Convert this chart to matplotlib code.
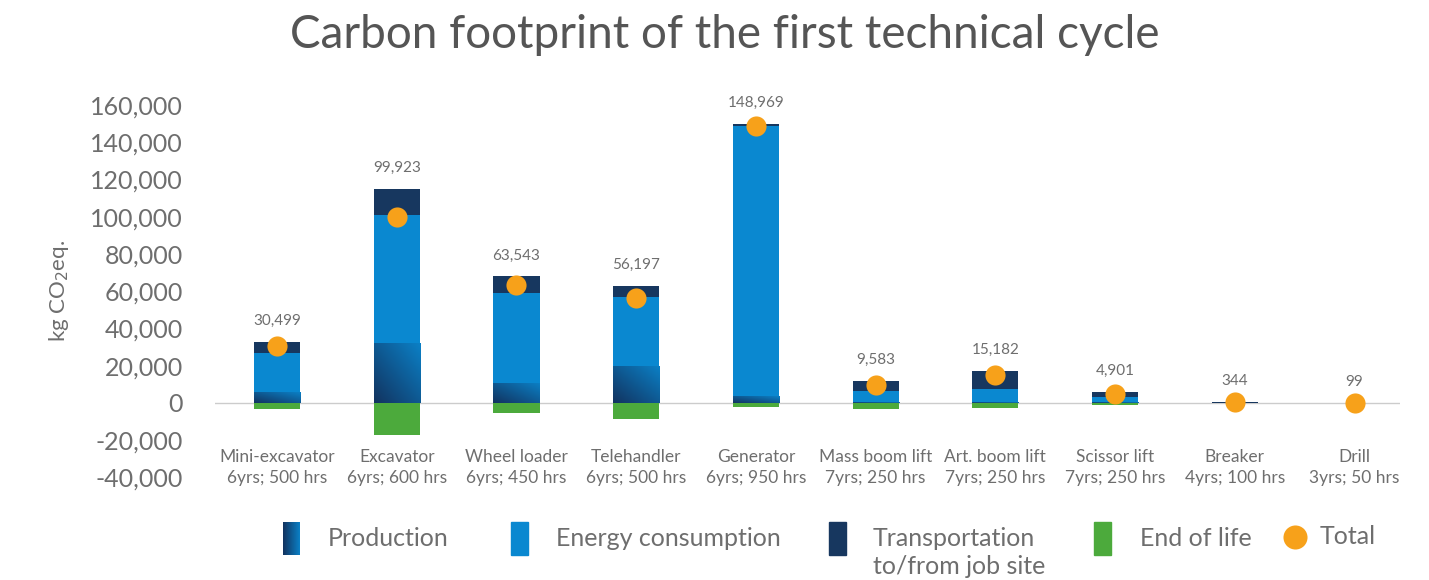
import numpy as np
import matplotlib.pyplot as plt
from matplotlib.colors import LinearSegmentedColormap
from matplotlib.patches import Rectangle

# Data (kg CO2 eq.)
categories = ['Mini-excavator', 'Excavator', 'Wheel loader', 'Telehandler', 'Generator',
              'Mass boom lift', 'Art. boom lift', 'Scissor lift', 'Breaker', 'Drill']
lifetimes = ['6yrs; 500 hrs', '6yrs; 600 hrs', '6yrs; 450 hrs', '6yrs; 500 hrs', '6yrs; 950 hrs',
             '7yrs; 250 hrs', '7yrs; 250 hrs', '7yrs; 250 hrs', '4yrs; 100 hrs', '3yrs; 50 hrs']
production = [5800, 32000, 11000, 20000, 3500, 400, 300, 400, 150, 50]
energy = [21000, 69000, 48000, 37000, 145000, 6000, 7000, 3000, 50, 40]
transport = [6200, 13900, 9000, 5700, 1200, 5500, 9800, 2500, 200, 20]
end_of_life = [-3000, -17000, -5500, -8500, -2200, -3000, -2500, -1000, -56, -11]
totals = [30499, 99923, 63543, 56197, 148969, 9583, 15182, 4901, 344, 99]

# colours
c_prod_dark = '#12335f'
c_prod_light = '#0b80c6'
c_energy = '#0a88d0'
c_transport = '#17375f'
c_eol = '#4caa3c'
c_total = '#f7a11a'
c_text = '#6e6e6e'

plt.rcParams['font.family'] = ['Lato', 'DejaVu Sans']

fig = plt.figure(figsize=(14.29, 5.8), dpi=100)
ax = fig.add_axes([215 / 1429, (580 - 477.5) / 580, (1400 - 215) / 1429, (477.5 - 105) / 580])

xpos = np.arange(len(categories))
width = 0.385
production = np.array(production)
energy = np.array(energy)
transport = np.array(transport)

prod_bars = ax.bar(xpos, production, width, color=c_prod_light, zorder=2)
ax.bar(xpos, energy, width, bottom=production, color=c_energy, zorder=2)
ax.bar(xpos, transport, width, bottom=production + energy, color=c_transport, zorder=2)
ax.bar(xpos, end_of_life, width, color=c_eol, zorder=2)

# diagonal gradient on the production segments
cmap = LinearSegmentedColormap.from_list('prod', [c_prod_dark, c_prod_light])
gx, gy = np.meshgrid(np.linspace(0, 1, 64), np.linspace(0, 1, 64))
grad = (gx + gy) / 2
for rect in prod_bars:
    x0, y0 = rect.get_x(), rect.get_y()
    w, h = rect.get_width(), rect.get_height()
    im = ax.imshow(grad, cmap=cmap, extent=[x0, x0 + w, y0 + h, y0], aspect='auto',
                   zorder=2.5, origin='upper')
    im.set_clip_path(rect)

ax.scatter(xpos, totals, s=210, color=c_total, zorder=4, linewidths=0)

# value labels above the positive stack
tops = production + energy + transport
for x, t, lab in zip(xpos, tops, totals):
    ax.annotate(f'{lab:,}', (x, t), xytext=(0, 15), textcoords='offset points',
                ha='center', va='center', fontsize=11, color=c_text)

# category labels
for x, c, l in zip(xpos, categories, lifetimes):
    ax.text(x, -29000, c, ha='center', va='center', fontsize=12.5, color=c_text)
    ax.text(x, -40000, l, ha='center', va='center', fontsize=12.5, color=c_text)

ax.axhline(0, color='#cccccc', linewidth=1, zorder=1)
ax.set_xlim(-0.518, 9.38)
ax.set_ylim(-40000, 160000)
ax.set_yticks(np.arange(-40000, 160001, 20000))
ax.set_yticklabels([f'{v:,}' for v in np.arange(-40000, 160001, 20000)])
ax.tick_params(axis='y', length=0, pad=23, labelsize=18, labelcolor=c_text)
ax.set_xticks([])
for s in ax.spines.values():
    s.set_visible(False)
ax.set_ylabel('kg CO$_2$eq.', fontsize=16, color=c_text, labelpad=14)

fig.text(725 / 1429, 1 - 35 / 580, 'Carbon footprint of the first technical cycle',
         ha='center', va='center', fontsize=33, color='#555555')

# legend drawn in pixel coordinates
lax = fig.add_axes([0, 0, 1, 1])
lax.axis('off')
lg = np.linspace(0, 1, 64).reshape(1, -1)
lax.imshow(lg, cmap=cmap, extent=[283, 300, 555, 522], aspect='auto')
lax.set_xlim(0, 1429)
lax.set_ylim(580, 0)
lax.add_patch(Rectangle((511, 522), 17, 33, color=c_energy))
lax.add_patch(Rectangle((829, 522), 17, 33, color=c_transport))
lax.add_patch(Rectangle((1094, 522), 17, 33, color=c_eol))
lax.scatter([1295], [537], s=300, color=c_total, linewidths=0)
lax.text(328, 539, 'Production', va='center', fontsize=18, color=c_text)
lax.text(556, 539, 'Energy consumption', va='center', fontsize=18, color=c_text)
lax.text(873, 539, 'Transportation', va='center', fontsize=18, color=c_text)
lax.text(873, 567, 'to/from job site', va='center', fontsize=18, color=c_text)
lax.text(1140, 539, 'End of life', va='center', fontsize=18, color=c_text)
lax.text(1320, 537, 'Total', va='center', fontsize=18, color=c_text)

fig.savefig('out.png', dpi=100)
